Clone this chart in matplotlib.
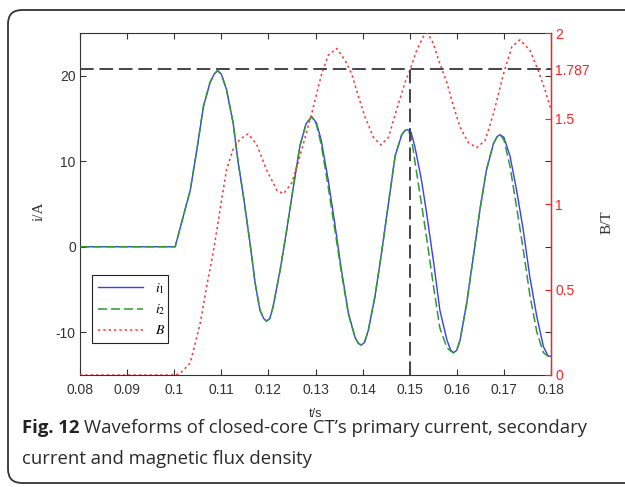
import matplotlib
matplotlib.use('Agg')
import matplotlib.pyplot as plt
from matplotlib.patches import FancyBboxPatch
from matplotlib.transforms import IdentityTransform

plt.rcParams['mathtext.fontset'] = 'stix'

# 电流波形 (t/s, i/A)
t_i = [0.08, 0.1002, 0.1019, 0.1034, 0.1048, 0.1062, 0.1076, 0.1085, 0.1092, 0.1100,
       0.1111, 0.1125, 0.1136, 0.1147, 0.1161, 0.1172, 0.1182, 0.1190, 0.1196, 0.1203,
       0.1210, 0.1225, 0.1239, 0.1253, 0.1267, 0.1280, 0.1292, 0.1302, 0.1312, 0.1327,
       0.1341, 0.1355, 0.1370, 0.1384, 0.1391, 0.1397, 0.1404, 0.1412, 0.1426, 0.1440,
       0.1455, 0.1469, 0.1483, 0.1490, 0.1496, 0.1503, 0.1511, 0.1525, 0.1536, 0.1551,
       0.1564, 0.1579, 0.1587, 0.1593, 0.1600, 0.1607, 0.1621, 0.1635, 0.1649, 0.1663,
       0.1678, 0.1686, 0.1692, 0.1700, 0.1713, 0.1727, 0.1741, 0.1755, 0.1770, 0.1784,
       0.1794, 0.1800]
i1 = [0, 0, 3.5, 6.6, 11.3, 16.4, 19.2, 20.2, 20.6, 20.2,
      18.4, 14.5, 9.8, 5.9, 0.4, -4.3, -7.4, -8.4, -8.7, -8.4,
      -7.0, -2.7, 2.0, 7.0, 11.8, 14.4, 15.2, 14.5, 12.5, 7.8,
      2.7, -2.7, -7.8, -10.6, -11.3, -11.5, -11.2, -9.8, -5.9, -0.8,
      5.1, 10.6, 13.1, 13.6, 13.7, 13.4, 11.7, 7.8, 3.9, -1.9,
      -7.4, -10.9, -12.1, -12.4, -12.1, -10.9, -6.6, -1.2, 4.3, 9.0,
      12.1, 12.9, 13.1, 12.8, 10.6, 6.6, 2.0, -3.5, -8.2, -11.7,
      -12.8, -12.8]
i2 = [0, 0, 3.5, 6.6, 11.3, 16.4, 19.2, 20.2, 20.6, 20.2,
      18.4, 14.5, 9.8, 5.9, 0.4, -4.3, -7.4, -8.4, -8.7, -8.4,
      -7.0, -2.7, 2.0, 7.0, 11.8, 14.4, 15.2, 14.3, 12.0, 7.0,
      2.0, -3.0, -7.9, -10.6, -11.3, -11.5, -11.2, -9.8, -5.9, -0.8,
      5.1, 10.6, 13.1, 13.6, 13.6, 13.0, 10.0, 5.0, 1.0, -4.8,
      -9.5, -11.8, -12.2, -12.4, -12.1, -10.9, -6.6, -1.2, 4.3, 9.0,
      12.1, 12.9, 13.1, 12.5, 9.4, 4.6, -0.3, -5.6, -10.0, -12.4,
      -12.8, -12.8]

# 磁通密度 (t/s, B/T)
t_B = [0.08, 0.1002, 0.1013, 0.1034, 0.1055, 0.1069, 0.1083, 0.1097, 0.1111, 0.1125,
       0.1140, 0.1157, 0.1175, 0.1196, 0.1218, 0.1232, 0.1249, 0.1264, 0.1274, 0.1292,
       0.1313, 0.1327, 0.1345, 0.1363, 0.1377, 0.1391, 0.1405, 0.1423, 0.1439, 0.1455,
       0.1472, 0.1490, 0.1501, 0.1515, 0.1529, 0.1538, 0.1550, 0.1564, 0.1579, 0.1593,
       0.1607, 0.1624, 0.1642, 0.1660, 0.1678, 0.1699, 0.1717, 0.1734, 0.1755, 0.1773,
       0.1787, 0.1800]
B = [0, 0, 0.01, 0.07, 0.30, 0.52, 0.72, 0.96, 1.20, 1.32,
     1.38, 1.41, 1.35, 1.20, 1.08, 1.06, 1.12, 1.25, 1.35, 1.53,
     1.76, 1.87, 1.91, 1.84, 1.76, 1.63, 1.51, 1.39, 1.345, 1.39,
     1.55, 1.71, 1.787, 1.90, 1.98, 2.0, 1.94, 1.82, 1.71, 1.57,
     1.45, 1.36, 1.33, 1.37, 1.53, 1.76, 1.92, 1.96, 1.90, 1.78,
     1.67, 1.55]

x_ticks = [0.08, 0.09, 0.1, 0.11, 0.12, 0.13, 0.14, 0.15, 0.16, 0.17, 0.18]
x_ticklabels = ['0.08', '0.09', '0.1', '0.11', '0.12', '0.13', '0.14', '0.15', '0.16', '0.17', '0.18']
i_ticks = [-10, 0, 10, 20]
B_ticks = [0, 0.5, 1, 1.5, 1.787, 2]
B_ticklabels = ['0', '0.5', '1', '1.5', '1.787', '2']
t_mark = 0.15
B_mark = 1.787

tick_font = 'Liberation Sans'
red = '#ff2020'

fig = plt.figure(figsize=(6.25, 4.87), dpi=100)

# 外框（圆角）
frame = FancyBboxPatch((8, 4), 700, 473, boxstyle='round,pad=0,rounding_size=14',
                       transform=IdentityTransform(), facecolor='none',
                       edgecolor='#333333', linewidth=1.3)
fig.add_artist(frame)

ax = fig.add_axes([80 / 625, 1 - 375 / 487, 471 / 625, 342 / 487])
ax2 = ax.twinx()

l1, = ax.plot(t_i, i1, color='#3b3bff', lw=1.0, label='$i_1$', zorder=3)
l2, = ax.plot(t_i, i2, color='#2f9a2f', lw=1.1, dashes=(6, 2.5), label='$i_2$', zorder=4)
l3, = ax2.plot(t_B, B, color='#ff3333', lw=1.1, dashes=(1.5, 2.0), label='$B$')

# 标记线
ax2.plot([x_ticks[0], x_ticks[-1]], [B_mark, B_mark], color='#444444', lw=1.4, dashes=(7, 3))
ax2.plot([t_mark, t_mark], [0, B_mark], color='#444444', lw=1.4, dashes=(7, 3))

ax.set_xlim(0.08, 0.18)
ax.set_ylim(-15, 25)
ax2.set_ylim(0, 2)

ax.set_xticks(x_ticks)
ax.set_xticklabels(x_ticklabels, fontfamily=tick_font, fontsize=10, color='#333333')
ax.set_yticks(i_ticks)
ax.set_yticklabels([str(v) for v in i_ticks], fontfamily=tick_font, fontsize=10, color='#333333')
ax.tick_params(direction='in', top=True, right=True, length=4, width=0.8, colors='#333333', pad=3)
ax.tick_params(axis='x', pad=6)

ax2.set_yticks(B_ticks)
ax2.set_yticklabels(B_ticklabels, fontfamily=tick_font, fontsize=10, color=red)
ax2.tick_params(axis='y', direction='in', length=4, width=0.8, color=red, pad=3)

for s in ['left', 'bottom', 'top']:
    ax.spines[s].set_color('#333333')
    ax2.spines[s].set_visible(False)
ax2.spines['right'].set_color(red)
ax2.spines['right'].set_linewidth(1.0)

ax.set_xlabel('t/s', fontfamily=tick_font, fontsize=9, color='#333333', labelpad=8)
ax.set_ylabel('i/A', fontfamily='Liberation Serif', fontsize=11, color='#333333')
ax.yaxis.set_label_coords(-0.074, 0.48)
ax2.set_ylabel('B/T', fontfamily='Liberation Serif', fontsize=11, color='#333333')
ax2.yaxis.set_label_coords(1.106, 0.447)

leg = ax2.legend(handles=[l1, l2, l3], loc='lower left',
                 bbox_to_anchor=(0.0255, 0.0936, 0.161, 0.158), mode='expand',
                 borderaxespad=0, fancybox=False, edgecolor='#222222',
                 framealpha=1, handlelength=3.3,
                 prop={'family': 'Liberation Serif', 'size': 10})
leg.get_frame().set_linewidth(0.8)

# 图注
fig.canvas.draw()
r = fig.canvas.get_renderer()
cap_y = 1 - 428 / 487
t1 = fig.text(22 / 625, cap_y, 'Fig. 12', fontfamily='Open Sans', fontweight='bold',
              fontsize=13.3, va='center', color='#222222')
bb = t1.get_window_extent(renderer=r)
fig.text((bb.x1 + 5) / 625, cap_y,
         'Waveforms of closed-core CT\u2019s primary current, secondary',
         fontfamily='Open Sans', fontsize=13.3, va='center', color='#2a2a2a')
fig.text(22 / 625, 1 - 459 / 487, 'current and magnetic flux density',
         fontfamily='Open Sans', fontsize=13.3, va='center', color='#2a2a2a')

fig.savefig('out.png', dpi=100)
